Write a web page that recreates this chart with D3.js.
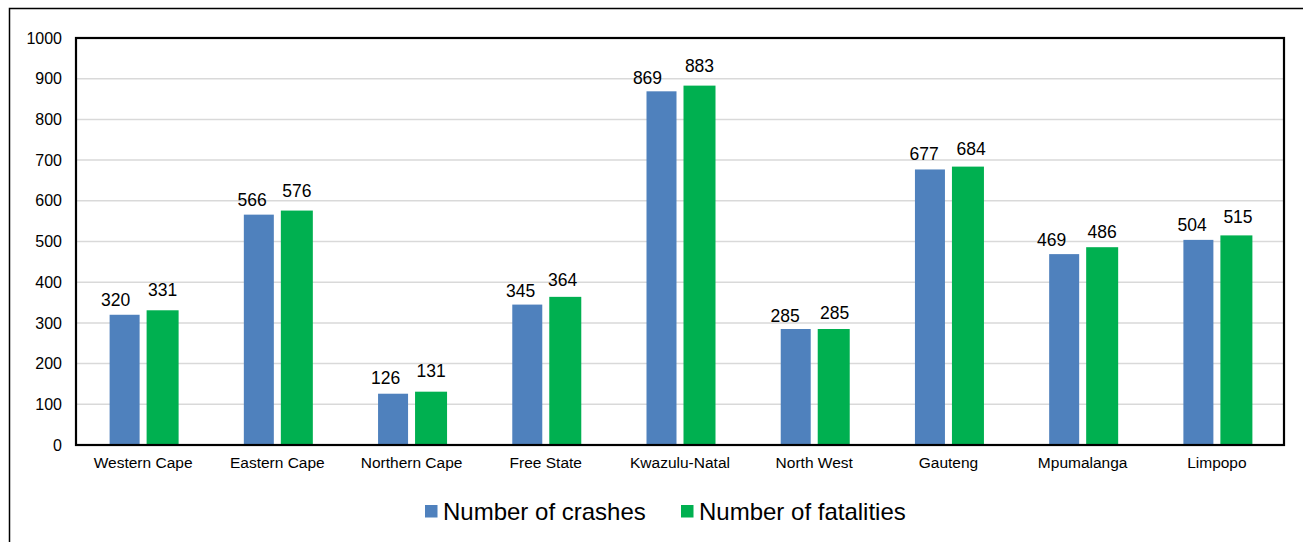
<!DOCTYPE html>
<html>
<head>
<meta charset="utf-8">
<script src="https://cdn.jsdelivr.net/npm/d3@7"></script>
<style>
  html, body { margin: 0; padding: 0; background: #fff; }
  svg { display: block; font-family: "Liberation Sans", Arial, sans-serif; }
</style>
</head>
<body>
<svg id="chart" width="1303" height="542"></svg>
<script>
// Road crashes and fatalities by province
const provinces = ["Western Cape", "Eastern Cape", "Northern Cape", "Free State", "Kwazulu-Natal", "North West", "Gauteng", "Mpumalanga", "Limpopo"];
const crashes = [320, 566, 126, 345, 869, 285, 677, 469, 504];
const fatalities = [331, 576, 131, 364, 883, 285, 684, 486, 515];
const seriesNames = ["Number of crashes", "Number of fatalities"];
const seriesColors = ["#4F81BD", "#00B050"];
const yTicks = [0, 100, 200, 300, 400, 500, 600, 700, 800, 900, 1000];

// hand-placed value labels: horizontal nudge and lift above the bar top (px)
const labelNudgeX = [
  [-9, -6.7, -7.5, -6.7, -14, -10.6, -5.8, -12.6, -6.3],
  [0, 0, 0, -2.7, 0, 1, 3.2, 0, 1.6]
];
const labelLift = [
  [9, 8.3, 9.7, 8, 7.7, 6.7, 9.3, 8.3, 9.3],
  [14.6, 14, 14.7, 10.7, 13.3, 9.7, 11.3, 9, 12.7]
];

const svg = d3.select("#chart");
const W = 1303, H = 542;
const plot = { left: 76, top: 38, right: 1284, bottom: 445 };
const FONT = "Liberation Sans, Arial, sans-serif";

// outer chart frame (runs off the right and bottom edges)
svg.append("rect")
  .attr("x", 9.5).attr("y", 8.5)
  .attr("width", W + 10).attr("height", H + 10)
  .attr("fill", "none").attr("stroke", "#000").attr("stroke-width", 1.5);

const x0 = d3.scaleBand().domain(provinces).range([plot.left, plot.right]).padding(0);
const y = d3.scaleLinear().domain([0, 1000]).range([plot.bottom, plot.top]);

// horizontal gridlines
svg.append("g").selectAll("line").data(yTicks.filter(t => t > 0 && t < 1000)).join("line")
  .attr("x1", plot.left).attr("x2", plot.right)
  .attr("y1", d => y(d)).attr("y2", d => y(d))
  .attr("stroke", "#d9d9d9").attr("stroke-width", 1.5);

// y-axis labels
const yAxis = d3.axisLeft(y).tickValues(yTicks).tickFormat(d3.format("d")).tickSize(0).tickPadding(14);
const gy = svg.append("g").attr("transform", `translate(${plot.left},0)`).call(yAxis);
gy.select(".domain").remove();
gy.selectAll("text").attr("font-size", 16).attr("fill", "#000").attr("font-family", FONT);

// bars: crashes on the left, fatalities on the right of each province
const barW = [30, 32], gap = 7;
const series = [crashes, fatalities];
const barX = [-(barW[0] + gap / 2), gap / 2];

series.forEach((vals, k) => {
  const g = svg.append("g");
  g.selectAll("rect").data(vals).join("rect")
    .attr("x", (v, i) => x0(provinces[i]) + x0.bandwidth() / 2 + barX[k])
    .attr("y", v => y(v))
    .attr("width", barW[k])
    .attr("height", v => y(0) - y(v))
    .attr("fill", seriesColors[k]);
  g.selectAll("text").data(vals).join("text")
    .attr("x", (v, i) => x0(provinces[i]) + x0.bandwidth() / 2 + barX[k] + barW[k] / 2 + labelNudgeX[k][i])
    .attr("y", (v, i) => y(v) - labelLift[k][i])
    .attr("text-anchor", "middle")
    .attr("font-size", 17.5).attr("fill", "#000")
    .text(v => v);
});

// plot area border
svg.append("rect")
  .attr("x", plot.left).attr("y", plot.top)
  .attr("width", plot.right - plot.left).attr("height", plot.bottom - plot.top)
  .attr("fill", "none").attr("stroke", "#000").attr("stroke-width", 2.2);

// category labels
const xAxis = d3.axisBottom(x0).tickSize(0).tickPadding(12);
const gx = svg.append("g").attr("transform", `translate(0,${plot.bottom})`).call(xAxis);
gx.select(".domain").remove();
gx.selectAll("text").attr("font-size", 15.5).attr("fill", "#000").attr("font-family", FONT);

// legend
const legendX = [425, 681];
const legend = svg.append("g").selectAll("g").data(seriesNames).join("g")
  .attr("transform", (d, i) => `translate(${legendX[i]},505)`);
legend.append("rect").attr("x", 0).attr("y", 0).attr("width", 12.5).attr("height", 12.5)
  .attr("fill", (d, i) => seriesColors[i]);
legend.append("text").attr("x", 18).attr("y", 14.5)
  .attr("font-size", 24).attr("fill", "#000").text(d => d);
</script>
</body>
</html>
